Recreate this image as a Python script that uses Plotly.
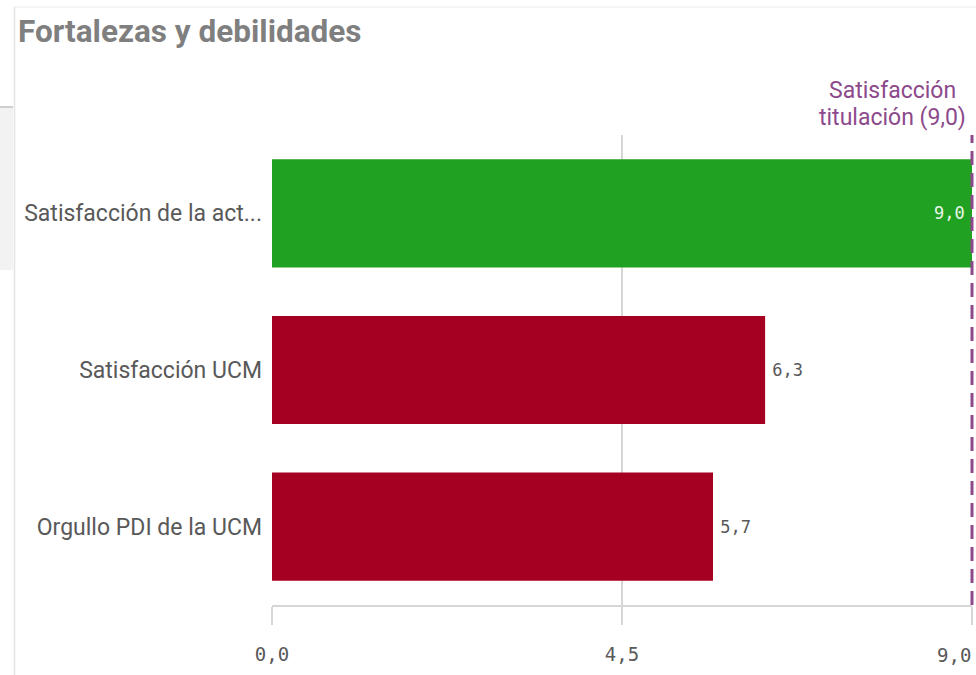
import plotly.graph_objects as go

categories = ["Satisfacción de la act...", "Satisfacción UCM", "Orgullo PDI de la UCM"]
values = [9.0, 6.34, 5.67]
bar_colors = ["#21a121", "#a50021", "#a50021"]
text_positions = ["inside", "outside", "outside"]
text_colors = ["#e9f5e9", "#595959", "#595959"]
tick_vals = [0, 4.5, 9]
tick_text = ["0,0", "4,5", "9,0"]
x_max = 9.0
ref_value = 9.0
ref_label_lines = ["Satisfacción", "titulación (9,0)"]

W, H = 976, 675
L, R, T, B = 272, 4, 135, 70
pw, ph = W - L - R, H - T - B

def px(x):
    return (x - L) / pw

def py(y):
    return (H - B - y) / ph

sp = "<span style='font-size:7px'>\u00a0</span>"
templates = ["%{x:.1f}" + sp, sp + "%{x:.1f}", sp + "%{x:.1f}"]

fig = go.Figure()
fig.add_trace(go.Bar(
    y=categories, x=values, orientation="h",
    marker=dict(color=bar_colors, line=dict(width=0)),
    texttemplate=templates, textposition=text_positions,
    insidetextanchor="end",
    textfont=dict(family="DejaVu Sans Mono", size=17, color=text_colors),
    outsidetextfont=dict(family="DejaVu Sans Mono", size=17, color="#595959"),
    insidetextfont=dict(family="DejaVu Sans Mono", size=17, color="#e9f5e9"),
    cliponaxis=False, hoverinfo="skip",
))

ref_px = ref_value / x_max  # position of the reference value in plot-area fraction

shapes = [
    dict(type="line", xref="paper", yref="paper", x0=ref_px, x1=ref_px, y0=0, y1=1,
         line=dict(color="#8c4a8c", width=3, dash="14px,8px"), layer="above"),
    dict(type="rect", xref="paper", yref="paper", x0=px(0), x1=px(13), y0=py(270), y1=py(107),
         fillcolor="#f2f2f2", line=dict(width=0), layer="below"),
    dict(type="line", xref="paper", yref="paper", x0=px(0), x1=px(13), y0=py(107), y1=py(107),
         line=dict(color="#cfcfcf", width=2)),
    dict(type="line", xref="paper", yref="paper", x0=px(14.5), x1=px(14.5), y0=py(675), y1=py(7),
         line=dict(color="#e3e3e3", width=1.5)),
    dict(type="line", xref="paper", yref="paper", x0=px(14), x1=px(976), y0=py(7), y1=py(7),
         line=dict(color="#ececec", width=1)),
]

tick_font = dict(family="DejaVu Sans Mono", size=19, color="#595959")

annotations = [
    dict(text="Fortalezas y debilidades", xref="paper", yref="paper", x=px(16), y=py(32),
         xanchor="left", yanchor="middle", showarrow=False,
         font=dict(family="Roboto", size=31.5, color="#7f7f7f", weight="bold")),
    dict(text=ref_label_lines[0], xref="x", yref="paper", x=ref_value, xshift=-80, y=py(90),
         xanchor="center", yanchor="middle", align="center", showarrow=False,
         font=dict(family="Roboto", size=23, color="#8c4a8c")),
    dict(text=ref_label_lines[1], xref="x", yref="paper", x=ref_value, xshift=-80, y=py(117),
         xanchor="center", yanchor="middle", align="center", showarrow=False,
         font=dict(family="Roboto", size=23, color="#8c4a8c")),
    # last tick label, right-aligned at the axis end as in the reference
    dict(text=tick_text[-1], xref="x", yref="paper", x=tick_vals[-1], xshift=1, y=py(655),
         xanchor="right", yanchor="middle", showarrow=False, font=tick_font),
]

fig.update_layout(
    width=W, height=H, margin=dict(l=L, r=R, t=T, b=B, autoexpand=False),
    paper_bgcolor="white", plot_bgcolor="white",
    separators=",.", showlegend=False, bargap=0.31,
    shapes=shapes, annotations=annotations,
    xaxis=dict(range=[0, x_max], tickvals=tick_vals, ticktext=tick_text[:-1] + [""],
               showgrid=True, gridcolor="#d6d6d6", gridwidth=1.5, zeroline=False,
               showline=True, linecolor="#d6d6d6", linewidth=2,
               ticks="outside", ticklen=18, tickcolor="#d6d6d6", tickwidth=2,
               ticklabelstandoff=13, ticklabeloverflow="allow",
               tickfont=tick_font),
    yaxis=dict(autorange="reversed", showgrid=False, zeroline=False, showline=False,
               ticks="", ticklabelstandoff=9,
               tickfont=dict(family="Roboto", size=23, color="#595959")),
)

fig.write_html("out.html", config={"displayModeBar": False},
               post_script="document.body.style.margin='0';document.body.style.overflow='hidden';")
